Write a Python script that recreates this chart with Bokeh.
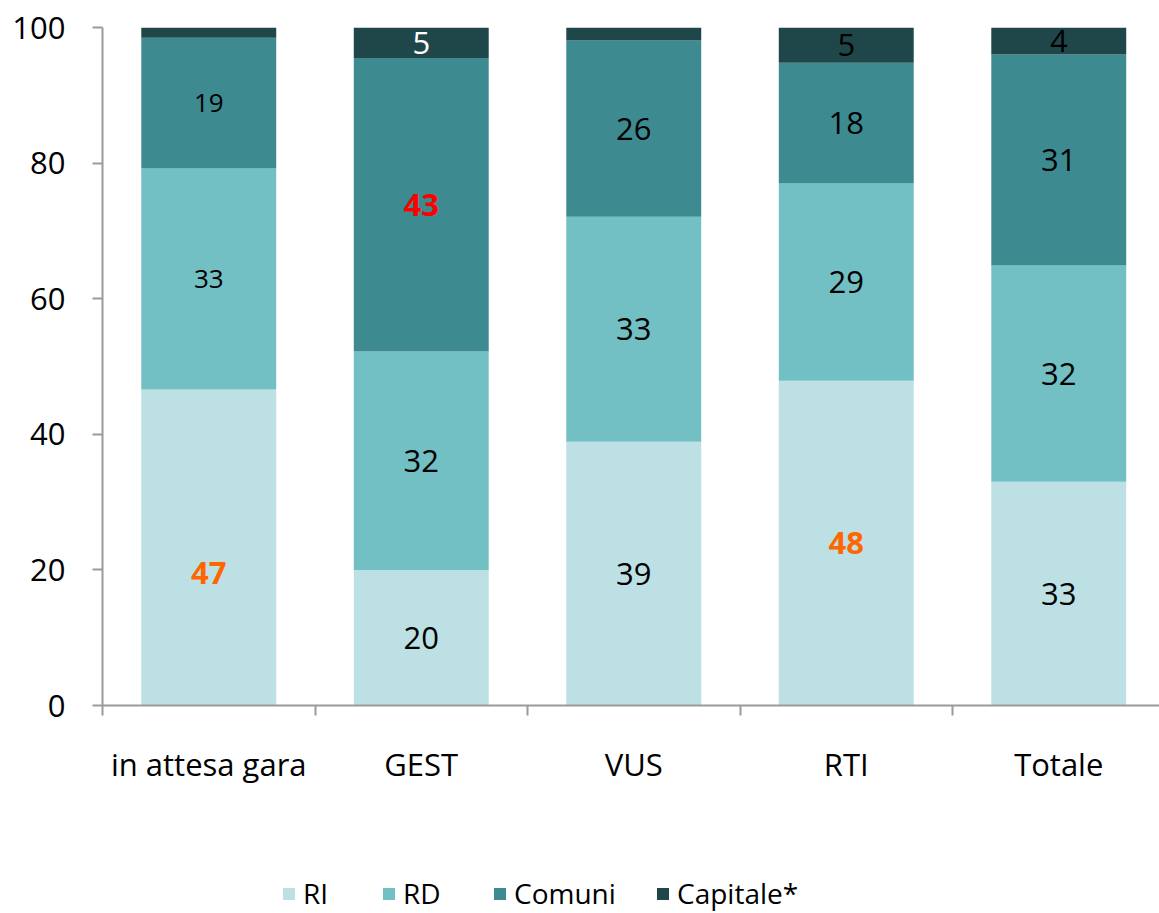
from bokeh.plotting import figure
from bokeh.layouts import column
from bokeh.models import ColumnDataSource, FixedTicker, Legend, LegendItem, Range1d
from bokeh.core.properties import value
from bokeh.embed import file_html
from bokeh.resources import INLINE

# ---- data ----
categories = ["in attesa gara", "GEST", "VUS", "RTI", "Totale"]
series = ["RI", "RD", "Comuni", "Capitale*"]
ri = [46.6, 20.0, 38.9, 47.9, 33.0]
rd = [32.6, 32.2, 33.2, 29.1, 31.9]
comuni = [19.3, 43.3, 26.0, 17.8, 31.1]
capitale = [1.5, 4.5, 1.9, 5.2, 4.0]
y_ticks = [0, 20, 40, 60, 80, 100]

# ---- styles ----
colors = ["#BCE0E3", "#72BFC4", "#3D8B91", "#1F474A"]
FONT = "Open Sans"
AXIS_GRAY = "#9A9A9A"

xs = list(range(len(categories)))
src = ColumnDataSource(dict(x=xs, RI=ri, RD=rd, Comuni=comuni, **{"Capitale*": capitale}))

p = figure(width=1159, height=853, output_backend="svg", toolbar_location=None,
           x_range=Range1d(-0.5, -0.5 + 1057 / 212.5), y_range=Range1d(0, 100),
           min_border_left=102, min_border_right=0, min_border_top=27, min_border_bottom=148)
p.outline_line_color = None
p.xgrid.grid_line_color = None
p.ygrid.grid_line_color = None
p.background_fill_color = "white"

renderers = p.vbar_stack(series, x="x", width=0.635, color=colors, line_color=None, source=src)

# ---- data labels ----
cols = [ri, rd, comuni, capitale]
lx, ly, lt, lc, ls, lw, loff = [], [], [], [], [], [], []
for i in xs:
    base = 0.0
    for s, col in enumerate(cols):
        v = col[i]
        if v >= 3:
            lx.append(i)
            ly.append(base + v / 2)
            lt.append(str(int(v + 0.5)))
            color, weight, size, off = "black", "normal", "31px", 0
            if i == 0:
                size = "26px"
            if (i == 0 and s == 0) or (i == 3 and s == 0):
                color, weight, size = "#FF6600", "bold", "31px"
            if i == 0 and s == 0:
                off = 25
            if i == 1 and s == 2:
                color, weight = "#FF0000", "bold"
            if i == 1 and s == 3:
                color = "white"
            lc.append(color); lw.append(weight); ls.append(size); loff.append(off)
        base += v

lsrc = ColumnDataSource(dict(x=lx, y=ly, t=lt, c=lc, s=ls, w=lw, off=loff))
p.text(x="x", y="y", text="t", source=lsrc, text_color="c", text_font_size="s",
       text_font_style="w", text_font=value(FONT), text_align="center",
       text_baseline="middle", y_offset="off")

# ---- y axis ----
ya = p.yaxis[0]
ya.ticker = FixedTicker(ticks=y_ticks)
ya.major_tick_out = 10
ya.major_tick_in = 0
ya.minor_tick_line_color = None
ya.major_tick_line_color = AXIS_GRAY
ya.major_tick_line_width = 2
ya.axis_line_color = AXIS_GRAY
ya.axis_line_width = 2
ya.major_label_text_font = FONT
ya.major_label_text_font_size = "31px"
ya.major_label_text_color = "black"
ya.major_label_standoff = 27

# ---- x axis ----
xa = p.xaxis[0]
xa.ticker = FixedTicker(ticks=xs, minor_ticks=[i - 0.5 for i in xs])
xa.major_label_overrides = {i: c for i, c in zip(xs, categories)}
xa.major_tick_out = 0
xa.major_tick_in = 0
xa.major_tick_line_color = None
xa.minor_tick_out = 10
xa.minor_tick_in = 0
xa.minor_tick_line_color = AXIS_GRAY
xa.minor_tick_line_width = 2
xa.axis_line_color = AXIS_GRAY
xa.axis_line_width = 2
xa.major_label_text_font = FONT
xa.major_label_text_font_size = "31px"
xa.major_label_text_color = "black"
xa.major_label_standoff = 27

# ---- legend strip (separate figure below the chart; its y-range lies above
#      the stacked data, so the bars used as legend renderers stay hidden) ----
pl = figure(width=1159, height=60, output_backend="svg", toolbar_location=None,
            x_range=Range1d(-0.5, -0.5 + 1057 / 212.5), y_range=Range1d(200, 260),
            x_axis_type=None, y_axis_type=None,
            min_border_left=102, min_border_right=0, min_border_top=0, min_border_bottom=0)
pl.outline_line_color = None
pl.xgrid.grid_line_color = None
pl.ygrid.grid_line_color = None

legend_renderers = pl.vbar_stack(series, x="x", width=0.635, color=colors,
                                 line_color=None, source=src)

starts = [179, 279, 390, 553]   # offsets from the plot frame's left edge (px)
for r, name, sx in zip(legend_renderers, series, starts):
    lg = Legend(items=[LegendItem(label=name, renderers=[r])], location=(sx, 1),
                orientation="horizontal", padding=0, margin=0, spacing=0,
                border_line_color=None, background_fill_alpha=0,
                glyph_width=15, glyph_height=15, label_standoff=7,
                label_text_font=FONT, label_text_font_size="28px",
                label_text_color="black")
    pl.add_layout(lg, "center")

open("out.html", "w").write(file_html(column(p, pl, spacing=0), INLINE))
